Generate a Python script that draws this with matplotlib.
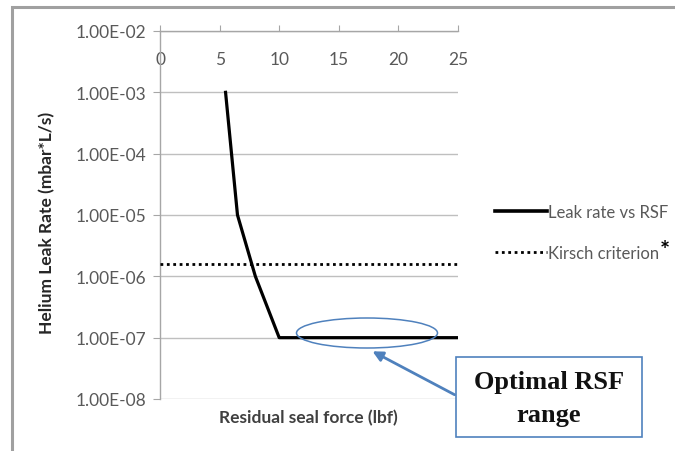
import matplotlib
matplotlib.use("Agg")
import matplotlib.pyplot as plt
from matplotlib.patches import Rectangle, Ellipse

# Data
rsf = [5.5, 6.5, 8, 10, 12, 15, 20, 25]
leak = [1e-3, 1e-5, 1e-6, 1e-7, 1e-7, 1e-7, 1e-7, 1e-7]
kirsch_x = [0, 25]
kirsch_y = [1.6e-6, 1.6e-6]
xticks = [0, 5, 10, 15, 20, 25]
yticks = [1e-2, 1e-3, 1e-4, 1e-5, 1e-6, 1e-7, 1e-8]
ytick_labels = ["1.00E-02", "1.00E-03", "1.00E-04", "1.00E-05", "1.00E-06", "1.00E-07", "1.00E-08"]

W, H = 675, 452
fig = plt.figure(figsize=(W / 100, H / 100), dpi=100)
plt.rcParams['font.family'] = ['Lato', 'DejaVu Sans']

def fx(px):
    return px / W

def fy(py):
    return 1 - py / H

# outer frame
fig.patches.append(Rectangle((fx(12), -0.1), 1.2, fy(8) + 0.1,
                             transform=fig.transFigure, fill=False, ec='#A0A0A0', lw=2.2))

ax = fig.add_axes([fx(160), fy(400), fx(458) - fx(160), fy(32) - fy(400)])
ax.set_yscale('log')
ax.set_xlim(0, 25)
ax.set_ylim(1e-8, 1e-2)

ax.plot(rsf, leak, color='black', lw=2.3, label='Leak rate vs RSF', zorder=3)
ax.plot(kirsch_x, kirsch_y, color='black', lw=2, ls=(0, (1, 1.3)), label='Kirsch criterion', zorder=3)

ax.set_yticks(yticks)
ax.set_yticklabels(ytick_labels)
ax.yaxis.set_minor_locator(matplotlib.ticker.NullLocator())
ax.set_xticks(xticks)
ax.set_xticklabels([str(t) for t in xticks])
ax.xaxis.tick_top()
ax.tick_params(axis='x', direction='out', length=4, color='#A6A6A6', pad=-30,
               labelsize=12.5, labelcolor='#595959')
ax.tick_params(axis='y', direction='out', length=5, color='#A6A6A6', pad=5,
               labelsize=12.5, labelcolor='#595959')
ax.grid(axis='y', color='#BFBFBF', lw=1)
ax.grid(axis='x', visible=False)
for s in ['right', 'bottom']:
    ax.spines[s].set_visible(False)
for s in ['left', 'top']:
    ax.spines[s].set_color('#A6A6A6')
    ax.spines[s].set_linewidth(1)

fig.text(fx(47), fy(223), 'Helium Leak Rate (mbar*L/s)', rotation=90, ha='center', va='center',
         fontsize=12.5, fontweight='bold', color='#262626')
fig.text(fx(308), fy(418), 'Residual seal force (lbf)', ha='center', va='center',
         fontsize=12.5, fontweight='bold', color='#404040')

leg = ax.legend(loc='upper left', bbox_to_anchor=(fx(495), fy(205)), bbox_transform=fig.transFigure,
                frameon=False, fontsize=12, handlelength=3.1, handletextpad=0.05,
                labelspacing=1.5, borderpad=0, borderaxespad=0)
for t in leg.get_texts():
    t.set_color('#595959')
leg.get_lines()[0].set_linewidth(2.6)
fig.text(fx(665), fy(252), '*', ha='center', va='center', fontsize=17, fontweight='bold', color='black')

blue = '#4F81BD'
fig.patches.append(Ellipse((fx(367), fy(334)), fx(141), 30 / H, transform=fig.transFigure,
                           fill=False, ec=blue, lw=1.1, zorder=5))

fig.patches.append(Rectangle((fx(456), fy(438)), fx(642) - fx(456), fy(358) - fy(438),
                             transform=fig.transFigure, fill=True, fc='white', ec=blue, lw=1.2, zorder=4))
fig.text(fx(549), fy(383), 'Optimal RSF', ha='center', va='center', fontsize=19, fontweight='bold',
         family=['Liberation Serif', 'DejaVu Serif'], color='#111111', zorder=6)
fig.text(fx(549), fy(416), 'range', ha='center', va='center', fontsize=19, fontweight='bold',
         family=['Liberation Serif', 'DejaVu Serif'], color='#111111', zorder=6)

ax.annotate('', xy=(fx(370), fy(351)), xycoords='figure fraction',
            xytext=(fx(457), fy(397)), textcoords='figure fraction',
            arrowprops=dict(arrowstyle='-|>', color=blue, lw=2, mutation_scale=15))

fig.savefig('out.png', dpi=100)
